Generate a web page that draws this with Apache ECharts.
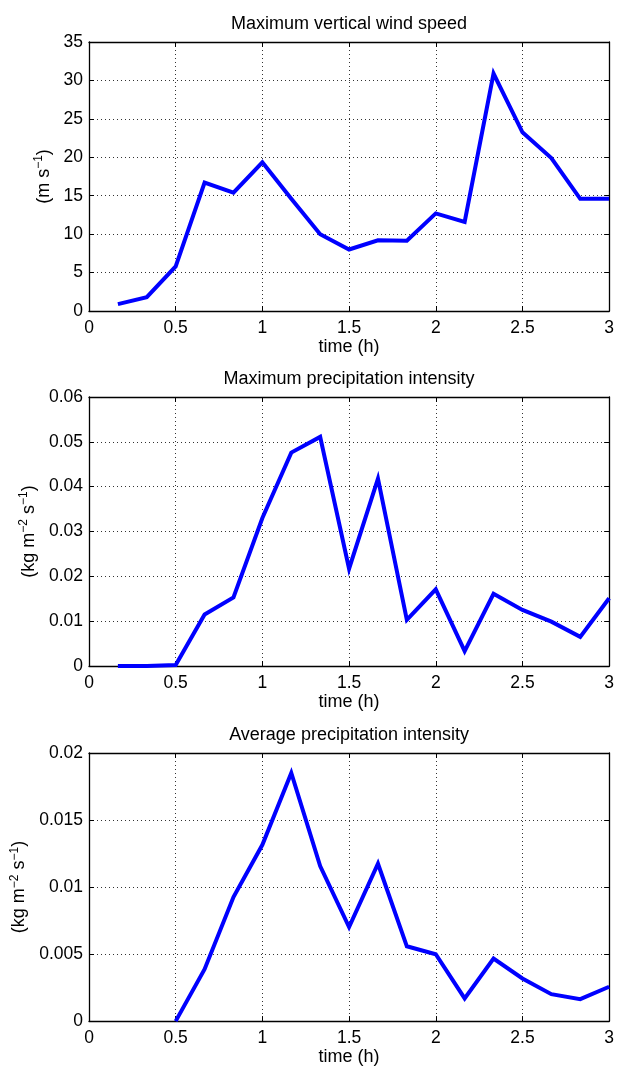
<!DOCTYPE html>
<html>
<head>
<meta charset="utf-8">
<script src="https://cdn.jsdelivr.net/npm/echarts@6/dist/echarts.min.js"></script>
<style>
html,body{margin:0;padding:0;background:#fff;}
#c{width:617px;height:1067px;}
</style>
</head>
<body>
<div id="c"></div>
<script>
var times = [0.1667, 0.3333, 0.5, 0.6667, 0.8333, 1.0, 1.1667, 1.3333, 1.5, 1.6667, 1.8333, 2.0, 2.1667, 2.3333, 2.5, 2.6667, 2.8333, 3.0];
var maxWind = [0.9, 1.8, 5.8, 16.7, 15.4, 19.35, 14.6, 10.0, 8.0, 9.2, 9.15, 12.7, 11.6, 30.9, 23.25, 19.9, 14.6, 14.6];
var maxPrecip = [0.0, 0.0, 0.0002, 0.0115, 0.0153, 0.033, 0.0476, 0.0511, 0.0217, 0.0418, 0.0103, 0.0171, 0.0033, 0.0161, 0.0125, 0.0099, 0.0065, 0.0151];
var avgPrecip = [null, null, 0.0, 0.00387, 0.00925, 0.01315, 0.01851, 0.01156, 0.00702, 0.01174, 0.00558, 0.00499, 0.00169, 0.00467, 0.00318, 0.00201, 0.00164, 0.00256];

var titles = ['Maximum vertical wind speed', 'Maximum precipitation intensity', 'Average precipitation intensity'];
var yNames = ['{a|(m s}{s|\u22121}{a|)}', '{a|(kg m}{s|\u22122}{a| s}{s|\u22121}{a|)}', '{a|(kg m}{s|\u22122}{a| s}{s|\u22121}{a|)}'];
var yMax = [35, 0.06, 0.02];
var yInterval = [5, 0.01, 0.005];
var xLabel = 'time (h)';
var seriesValues = [maxWind, maxPrecip, avgPrecip];

var FONT = '"Liberation Sans", Arial, Helvetica, sans-serif';
var gridTops = [42, 397, 753];
var gridHeight = 269;
var yNameGaps = [33, 49, 57];

var grids = [], xAxes = [], yAxes = [], series = [];
for (var i = 0; i < 3; i++) {
  grids.push({left: 89, width: 521, top: gridTops[i], height: gridHeight, containLabel: false});
  xAxes.push({
    gridIndex: i, type: 'value', min: 0, max: 3, interval: 0.5, position: 'bottom',
    axisLine: {onZero: false, lineStyle: {color: '#000', width: 1.3}},
    axisTick: {inside: true, length: 5, lineStyle: {color: '#000', width: 1}},
    axisLabel: {color: '#000', fontSize: 17.5, fontFamily: FONT, margin: 8},
    splitLine: {show: true, lineStyle: {type: [1, 3], color: '#333', width: 1}},
    name: xLabel, nameLocation: 'middle', nameGap: 26,
    nameTextStyle: {color: '#000', fontSize: 18, fontFamily: FONT}
  });
  xAxes.push({
    gridIndex: i, type: 'value', min: 0, max: 3, interval: 0.5, position: 'top',
    axisLine: {onZero: false, lineStyle: {color: '#000', width: 1.3}},
    axisTick: {inside: true, length: 5, lineStyle: {color: '#000', width: 1}},
    axisLabel: {show: false},
    splitLine: {show: false},
    name: titles[i], nameLocation: 'middle', nameGap: 9,
    nameTextStyle: {color: '#000', fontSize: 18, fontFamily: FONT}
  });
  yAxes.push({
    gridIndex: i, type: 'value', min: 0, max: yMax[i], interval: yInterval[i], position: 'left',
    axisLine: {show: true, onZero: false, lineStyle: {color: '#000', width: 1.3}},
    axisTick: {show: true, inside: true, length: 5, lineStyle: {color: '#000', width: 1}},
    axisLabel: {color: '#000', fontSize: 17.5, fontFamily: FONT, margin: 6},
    splitLine: {show: true, lineStyle: {type: [1, 3], color: '#333', width: 1}},
    name: yNames[i], nameLocation: 'middle', nameRotate: 90, nameGap: yNameGaps[i],
    nameTextStyle: {
      color: '#000', fontFamily: FONT,
      rich: {
        a: {fontSize: 18, fontFamily: FONT, color: '#000', lineHeight: 22},
        s: {fontSize: 12, fontFamily: FONT, color: '#000', lineHeight: 12, verticalAlign: 'top'}
      }
    }
  });
  yAxes.push({
    gridIndex: i, type: 'value', min: 0, max: yMax[i], interval: yInterval[i], position: 'right',
    axisLine: {show: true, onZero: false, lineStyle: {color: '#000', width: 1.3}},
    axisTick: {show: true, inside: true, length: 5, lineStyle: {color: '#000', width: 1}},
    axisLabel: {show: false},
    splitLine: {show: false}
  });
  series.push({
    type: 'line', xAxisIndex: 2 * i, yAxisIndex: 2 * i,
    data: times.map(function (t, k) { return [t, seriesValues[i][k]]; }),
    showSymbol: false, symbol: 'none', connectNulls: false,
    lineStyle: {color: '#0000ff', width: 4, join: 'miter'},
    z: 5
  });
}

var chart = echarts.init(document.getElementById('c'), null, {renderer: 'canvas'});
chart.setOption({
  animation: false,
  backgroundColor: '#fff',
  grid: grids,
  xAxis: xAxes,
  yAxis: yAxes,
  series: series
});
</script>
</body>
</html>
